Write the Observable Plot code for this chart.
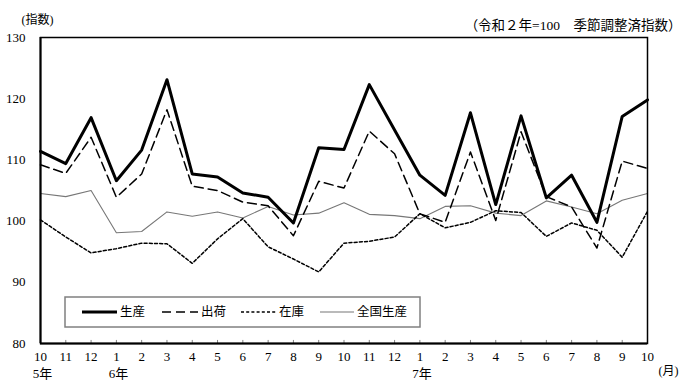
<!DOCTYPE html>
<html>
<head>
<meta charset="utf-8">
<script src="https://cdn.jsdelivr.net/npm/d3@7"></script>
<script src="https://cdn.jsdelivr.net/npm/@observablehq/plot@0.6"></script>
<style>
  html, body { margin: 0; padding: 0; background: #fff; }
  #chart svg { display: block; }
</style>
</head>
<body>
<div id="chart"></div>
<script>
// Month tick labels (令和5年10月 〜 令和7年10月)
const months = ["10","11","12","1","2","3","4","5","6","7","8","9","10","11","12","1","2","3","4","5","6","7","8","9","10"];
// Year labels and the month index they sit under
const years = ["5年", "6年", "7年"];
const yearIndex = [0, 3, 15];

// Series (令和2年=100, 季節調整済指数)
const seisan   = [111.4, 109.4, 116.9, 106.6, 111.6, 123.1, 107.7, 107.2, 104.6, 103.9, 99.7, 112.0, 111.7, 122.3, 114.9, 107.5, 104.2, 117.7, 102.7, 117.2, 103.8, 107.5, 99.8, 117.1, 119.8];
const shukka   = [109.2, 107.8, 113.7, 103.9, 107.7, 118.2, 105.7, 105.0, 103.1, 102.5, 97.6, 106.5, 105.4, 114.7, 111.0, 101.2, 99.8, 111.3, 100.1, 114.6, 104.0, 102.3, 95.6, 109.8, 108.6];
const zaiko    = [100.2, 97.4, 94.8, 95.5, 96.4, 96.3, 93.1, 97.1, 100.4, 95.8, 93.8, 91.7, 96.4, 96.7, 97.4, 101.2, 98.9, 99.8, 101.7, 101.4, 97.5, 99.7, 98.5, 94.1, 101.6];
const zenkoku  = [104.5, 104.0, 105.0, 98.1, 98.3, 101.5, 100.8, 101.5, 100.5, 102.4, 101.0, 101.3, 103.0, 101.1, 100.9, 100.4, 102.4, 102.5, 101.3, 100.9, 103.3, 102.3, 101.2, 103.4, 104.5];

const seriesNames = ["生産", "出荷", "在庫", "全国生産"];
const yTicks = [80, 90, 100, 110, 120, 130];

const idx = months.map((_, i) => i);
const rows = (arr) => arr.map((v, i) => ({i, v}));

const serif = "'Liberation Serif', 'Noto Sans CJK JP', serif";
const sans = "'Noto Sans CJK JP', sans-serif";

const plot = Plot.plot({
  width: 689,
  height: 385,
  marginTop: 37,
  marginRight: 42,
  marginBottom: 42,
  marginLeft: 40,
  style: {fontFamily: serif, fontSize: "13px", color: "#000", background: "#fff"},
  x: {domain: [0, 24], axis: null, label: null},
  y: {domain: [80, 130], axis: null, label: null},
  marks: [
    // small inward ticks on bottom axis
    Plot.ruleX(idx.slice(1, -1), {x: d => d, y1: 80, y2: 80.5, stroke: "#808080", strokeWidth: 1}),
    Plot.line(rows(zenkoku), {x: "i", y: "v", stroke: "#777", strokeWidth: 1.1}),
    Plot.line(rows(zaiko), {x: "i", y: "v", stroke: "#000", strokeWidth: 1.5, strokeDasharray: "3,2.2"}),
    Plot.line(rows(shukka), {x: "i", y: "v", stroke: "#000", strokeWidth: 1.5, strokeDasharray: "9,5"}),
    Plot.line(rows(seisan), {x: "i", y: "v", stroke: "#000", strokeWidth: 3}),
    Plot.frame({stroke: "#000", strokeWidth: 1.5}),
    Plot.ruleX([0], {stroke: "#000", strokeWidth: 2}),
    Plot.ruleY([80], {stroke: "#000", strokeWidth: 2}),
    // axes
    Plot.axisY(yTicks, {anchor: "left", label: null, tickSize: 0, tickPadding: 15, fontFamily: serif, fontSize: 13}),
    Plot.axisX(idx, {anchor: "bottom", label: null, tickSize: 0, tickPadding: 8, tickFormat: i => months[i], fontFamily: serif, fontSize: 13}),
    Plot.text(years.map((t, k) => ({t, i: yearIndex[k]})), {x: "i", y: 80, text: "t", dy: 30, dx: 2, lineAnchor: "middle", fontFamily: serif, fontSize: 13}),
    // annotations
    Plot.text(["(指数)"], {frameAnchor: "top-left", dx: -3, dy: -17, lineAnchor: "middle", textAnchor: "middle", fontFamily: serif, fontSize: 12}),
    Plot.text(["（令和２年=100　季節調整済指数）"], {frameAnchor: "top-right", dx: 34, dy: -12, lineAnchor: "middle", textAnchor: "end", fontFamily: serif, fontSize: 13.5}),
    Plot.text(["(月)"], {frameAnchor: "bottom-right", dx: 21, dy: 28, lineAnchor: "middle", textAnchor: "middle", fontFamily: serif, fontSize: 12})
  ]
});

// Legend (inside the plot area)
const svg = d3.select(plot);
const lg = svg.append("g").attr("class", "legend").attr("text-anchor", "start");
lg.append("rect").attr("x", 65).attr("y", 297).attr("width", 355).attr("height", 30)
  .attr("fill", "#fff").attr("stroke", "#808080").attr("stroke-width", 1.5);
const legendItems = [
  {name: seriesNames[0], x1: 82, x2: 117, tx: 120, width: 3, dash: null, color: "#000"},
  {name: seriesNames[1], x1: 162, x2: 198, tx: 201, width: 1.5, dash: "9,5", color: "#000"},
  {name: seriesNames[2], x1: 241, x2: 276, tx: 279, width: 1.5, dash: "3,2.2", color: "#000"},
  {name: seriesNames[3], x1: 320, x2: 354, tx: 357, width: 1.1, dash: null, color: "#777"}
];
for (const it of legendItems) {
  lg.append("line").attr("x1", it.x1).attr("x2", it.x2).attr("y1", 312).attr("y2", 312)
    .attr("stroke", it.color).attr("stroke-width", it.width)
    .attr("stroke-dasharray", it.dash);
  lg.append("text").attr("x", it.tx).attr("y", 312).attr("dy", "0.35em")
    .attr("text-anchor", "start")
    .attr("font-family", sans).attr("font-size", 12.5).attr("fill", "#000").text(it.name);
}

document.getElementById("chart").appendChild(plot);
</script>
</body>
</html>
